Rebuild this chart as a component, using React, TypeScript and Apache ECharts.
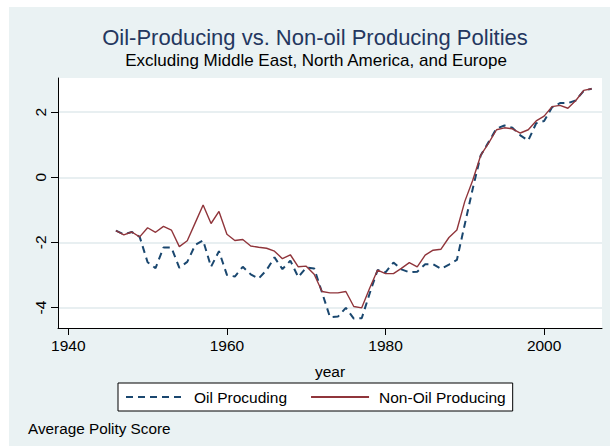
import React, { useEffect, useRef } from "react";
import * as echarts from "echarts";

const years = [
  1946, 1947, 1948, 1949, 1950, 1951, 1952, 1953, 1954, 1955,
  1956, 1957, 1958, 1959, 1960, 1961, 1962, 1963, 1964, 1965,
  1966, 1967, 1968, 1969, 1970, 1971, 1972, 1973, 1974, 1975,
  1976, 1977, 1978, 1979, 1980, 1981, 1982, 1983, 1984, 1985,
  1986, 1987, 1988, 1989, 1990, 1991, 1992, 1993, 1994, 1995,
  1996, 1997, 1998, 1999, 2000, 2001, 2002, 2003, 2004, 2005, 2006,
];

const oilProducing = [
  -1.64, -1.75, -1.68, -1.83, -2.61, -2.79, -2.16, -2.16, -2.78, -2.6,
  -2.08, -1.94, -2.75, -2.27, -3.0, -3.05, -2.75, -2.98, -3.11, -2.85,
  -2.46, -2.82, -2.56, -3.07, -2.77, -2.8, -3.54, -4.3, -4.28, -4.01,
  -4.34, -4.33, -3.57, -2.85, -2.92, -2.62, -2.83, -2.92, -2.9, -2.67,
  -2.67, -2.81, -2.68, -2.54, -1.44, -0.35, 0.67, 1.08, 1.5, 1.59,
  1.52, 1.29, 1.13, 1.66, 1.73, 2.15, 2.28, 2.28, 2.36, 2.66, 2.72,
];

const nonOilProducing = [
  -1.64, -1.77, -1.68, -1.83, -1.55, -1.69, -1.51, -1.62, -2.13, -1.95,
  -1.4, -0.85, -1.42, -1.05, -1.75, -1.94, -1.91, -2.11, -2.15, -2.18,
  -2.27, -2.5, -2.38, -2.75, -2.73, -2.98, -3.51, -3.55, -3.55, -3.51,
  -3.97, -4.01, -3.41, -2.85, -2.96, -2.96, -2.8, -2.62, -2.75, -2.39,
  -2.24, -2.21, -1.85, -1.62, -0.74, -0.09, 0.67, 1.05, 1.46, 1.52,
  1.49, 1.36, 1.46, 1.73, 1.88, 2.17, 2.21, 2.12, 2.36, 2.67, 2.72,
];

const xTicks = [1940, 1960, 1980, 2000];
const yTicks = [-4, -2, 0, 2];

const seriesNames = ["Oil Procuding", "Non-Oil Producing"];

export default function App() {
  const ref = useRef<HTMLDivElement>(null);

  useEffect(() => {
    const chart = echarts.init(ref.current!, null, { renderer: "svg" });
    const font = "'Liberation Sans', Arial, Helvetica, sans-serif";
    chart.setOption({
      animation: false,
      backgroundColor: "#ffffff",
      textStyle: { fontFamily: font },
      graphic: [
        {
          type: "rect",
          z: -10,
          shape: { x: 9, y: 7, width: 601, height: 439 },
          style: { fill: "#eaf2f3" },
        },
        {
          type: "text",
          x: 315,
          y: 37,
          style: {
            text: "Oil-Producing vs. Non-oil Producing Polities",
            fontSize: 22,
            fontFamily: font,
            fill: "#24375f",
            align: "center",
            verticalAlign: "middle",
          },
        },
        {
          type: "text",
          x: 316,
          y: 60,
          style: {
            text: "Excluding Middle East, North America, and Europe",
            fontSize: 17,
            fontFamily: font,
            fill: "#000",
            align: "center",
            verticalAlign: "middle",
          },
        },
        {
          type: "text",
          x: 330,
          y: 371,
          style: {
            text: "year",
            fontSize: 15.5,
            fontFamily: font,
            fill: "#000",
            align: "center",
            verticalAlign: "middle",
          },
        },
        {
          type: "text",
          x: 28,
          y: 428,
          style: {
            text: "Average Polity Score",
            fontSize: 15.3,
            fontFamily: font,
            fill: "#000",
            align: "left",
            verticalAlign: "middle",
          },
        },
      ],
      grid: {
        left: 58,
        right: 8,
        top: 78,
        bottom: 120,
        show: true,
        backgroundColor: "#ffffff",
        borderWidth: 0,
      },
      legend: {
        left: 118,
        top: 383,
        orient: "horizontal",
        padding: [6, 7, 6, 7],
        borderColor: "#000",
        borderWidth: 1,
        backgroundColor: "#ffffff",
        itemWidth: 58,
        itemHeight: 14,
        itemGap: 23,
        itemStyle: { opacity: 0, color: "transparent", borderWidth: 0 },
        textStyle: { fontSize: 15.5, color: "#000", fontFamily: font, padding: [0, 0, 0, 5] },
        data: seriesNames,
      },
      xAxis: {
        type: "value",
        min: 1938.7,
        max: 2007.3,
        axisLine: { show: true, onZero: false, lineStyle: { color: "#000", width: 1 } },
        axisTick: { show: true, length: 7, customValues: xTicks, lineStyle: { color: "#000" } },
        axisLabel: {
          customValues: xTicks,
          fontSize: 15.5,
          color: "#000",
          margin: 9,
          fontFamily: font,
          formatter: (v: number) => String(v),
        },
        splitLine: { show: false },
      },
      yAxis: {
        type: "value",
        min: -4.63,
        max: 3.05,
        axisLine: { show: true, onZero: false, lineStyle: { color: "#000", width: 1 } },
        axisTick: { show: true, length: 7, customValues: yTicks, lineStyle: { color: "#000" } },
        axisLabel: {
          customValues: yTicks,
          fontSize: 15.5,
          color: "#000",
          margin: 10,
          rotate: 90,
          fontFamily: font,
          formatter: (v: number) => String(v),
        },
        splitLine: { show: true, lineStyle: { color: "#e1eaed", width: 1.5 } },
      },
      series: [
        {
          name: seriesNames[0],
          type: "line",
          data: years.map((y, i) => [y, oilProducing[i]]),
          showSymbol: false,
          symbol: "none",
          lineStyle: { color: "#1a476f", width: 2, type: [7, 5] },
          itemStyle: { color: "#1a476f" },
        },
        {
          name: seriesNames[1],
          type: "line",
          data: years.map((y, i) => [y, nonOilProducing[i]]),
          showSymbol: false,
          symbol: "none",
          lineStyle: { color: "#90353b", width: 1.4 },
          itemStyle: { color: "#90353b" },
        },
      ],
    });
    return () => chart.dispose();
  }, []);

  return (
    <div
      ref={ref}
      style={{ position: "fixed", left: 0, top: 0, width: 610, height: 448 }}
    />
  );
}
